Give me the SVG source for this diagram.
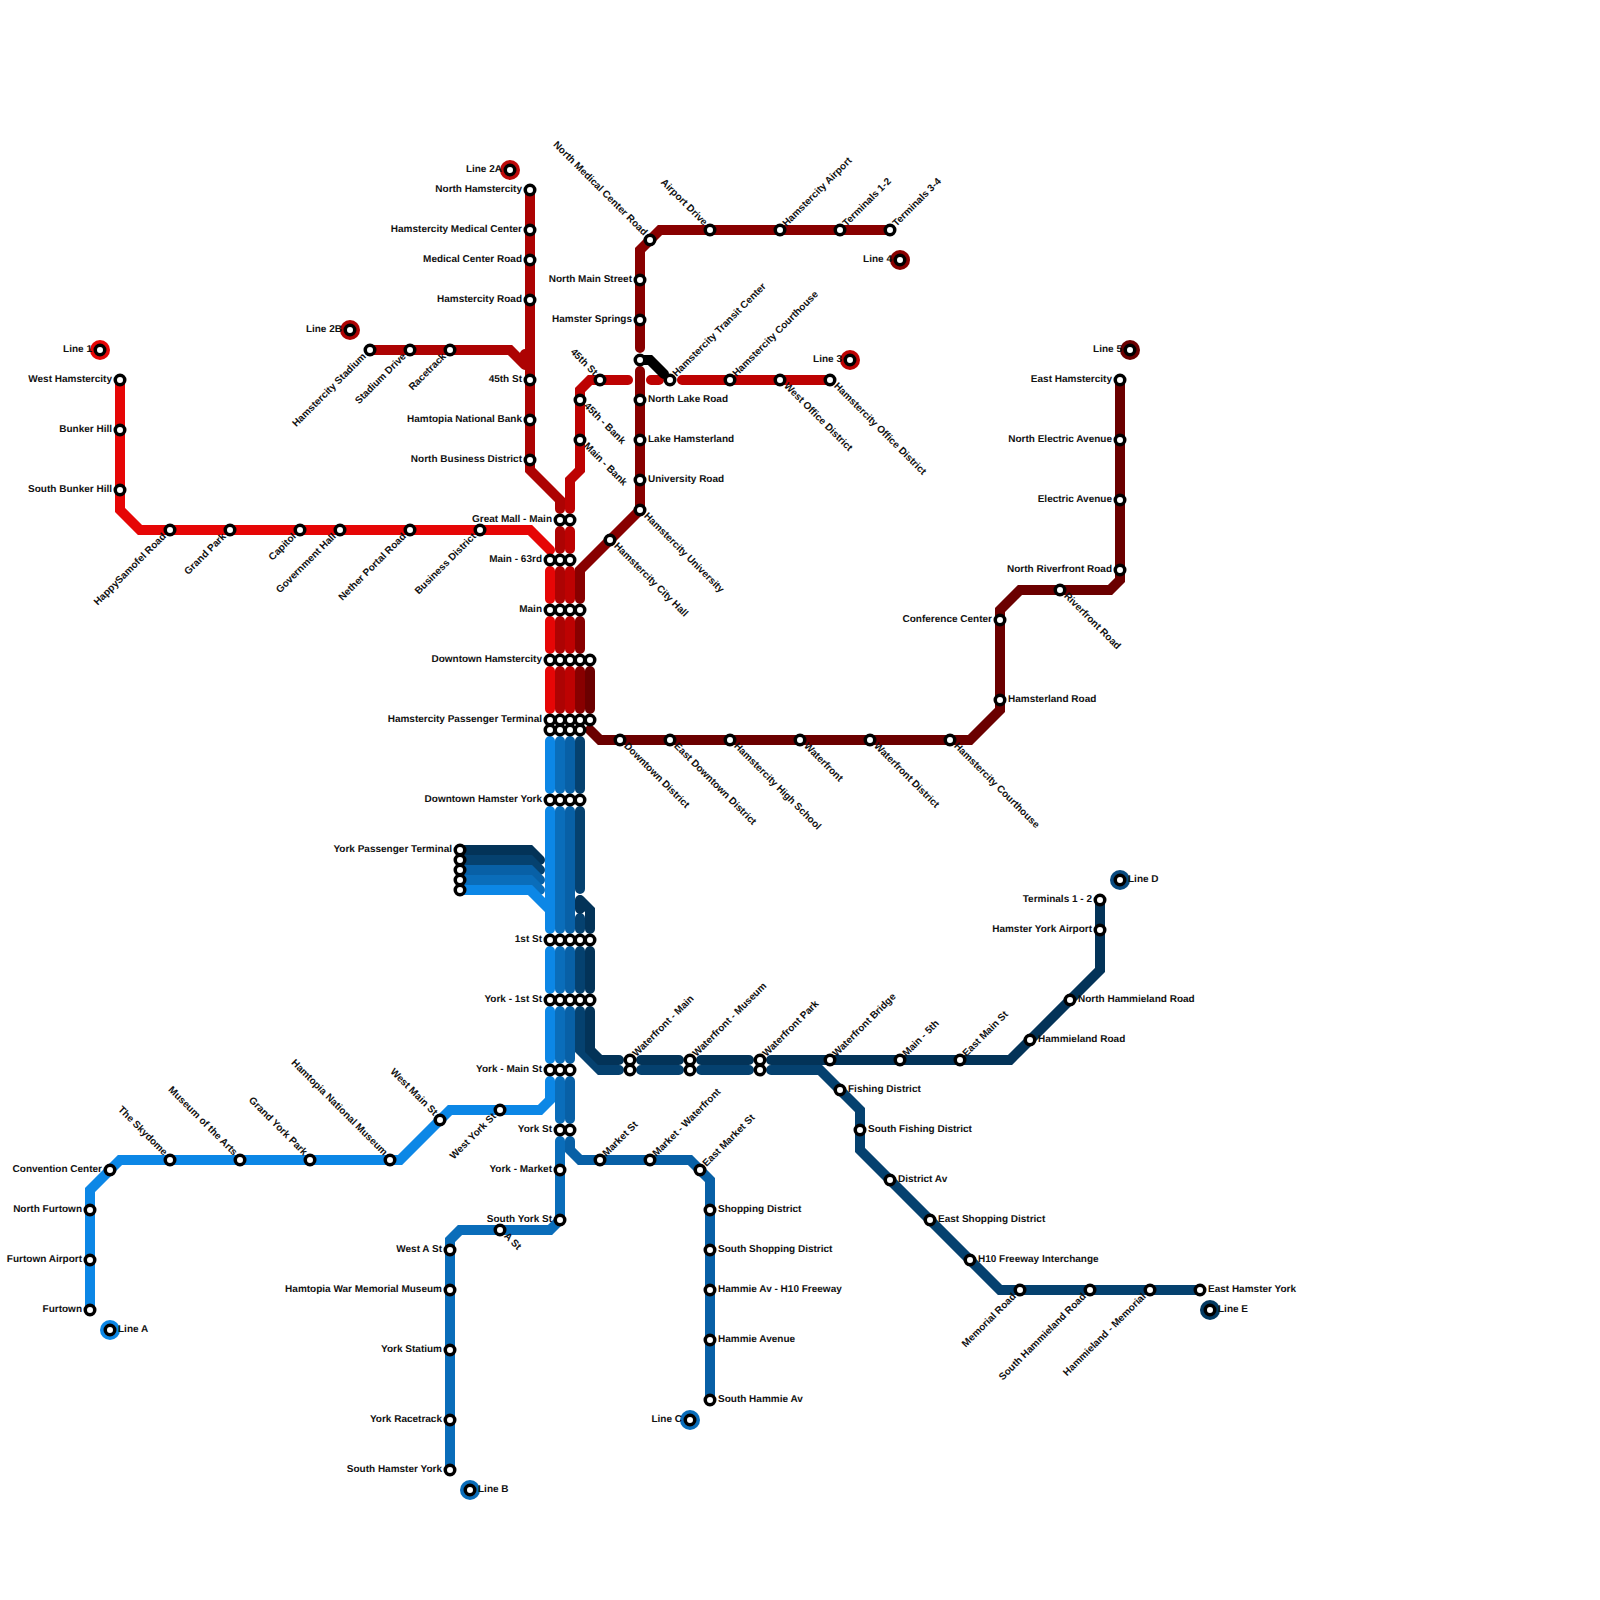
<svg xmlns="http://www.w3.org/2000/svg" width="1600" height="1600" viewBox="0 0 1600 1600">
<style>
text{font-family:"Liberation Sans",Arial,sans-serif;font-size:10px;font-weight:700;fill:#111;text-rendering:geometricPrecision}
.e{text-anchor:end}
.c path{fill:none;stroke-width:10;stroke-linecap:round;stroke-linejoin:miter}
.st{fill:#fff;stroke:#000;stroke-width:3.5}
.l1{stroke:#e60606}.l2{stroke:#ad0303}.l3{stroke:#bd0202}.l4{stroke:#880000}.l5{stroke:#6b0000}
.la{stroke:#0c87e6}.lb{stroke:#0a6dba}.lc{stroke:#0860a6}.ld{stroke:#05416f}.le{stroke:#033358}.lx{stroke:#000}
</style>
<rect width="1600" height="1600" fill="#fff"/>
<g id="connectors" class="c">
<path class="le" d="M460 850H530L540 860"/>
<path class="ld" d="M460 860H530L540 870"/>
<path class="lc" d="M460 870H530L540 880"/>
<path class="lb" d="M460 880H530L540 890"/>
<path class="l1" d="M120 380V510L140 530H530L550 550"/>
<path class="l1" d="M550 571V599M550 621V649M550 671V709"/>
<path class="l2" d="M370 350H510L525 365M525 354L524 356"/>
<path class="l2" d="M530 190V470L560 500V509M560 531V549M560 571V599M560 621V649M560 671V709"/>
<path class="l3" d="M830 380H682M659 380H651M628 380H590L580 390V470L570 480V509M570 531V549M570 571V599M570 621V649M570 671V709"/>
<path class="l4" d="M890 230H660L640 250V348M640 371V510L580 570V599M580 621V649M580 671V709"/>
<path class="lx" d="M640 360H650L664 374"/>
<path class="l5" d="M1120 380V580L1110 590H1020L1000 610V710L970 740H600L590 730M590 671V709"/>
<path class="la" d="M460 890H530L550 910V929M550 741V789M550 811V929M550 951V989M550 1011V1059M550 1081V1100L540 1110H450L400 1160H120L90 1190V1310"/>
<path class="lb" d="M560 741V789M560 811V929M560 951V989M560 1011V1059M560 1081V1119M560 1141V1220L550 1230H460L450 1240V1470"/>
<path class="lc" d="M570 741V789M570 811V929M570 951V989M570 1011V1059M570 1081V1119M570 1141V1150L580 1160H690L710 1180V1400"/>
<path class="ld" d="M580 741V789M580 811V889M580 918V929M580 951V989M580 1011V1050L600 1070H619M641 1070H679M701 1070H749M771 1070H820L860 1110V1150L1000 1290H1200"/>
<path class="le" d="M580 900V909M580 900L590 910V929M590 951V989M590 1011V1050L600 1060H619M641 1060H679M701 1060H749M771 1060H1010L1100 970V900"/>
</g>
<g id="line-1"><circle cx="100" cy="350" r="10" fill="#e60606"/><circle class="st" cx="100" cy="350" r="4.750"/><text class="e" x="92" y="351.800">Line 1</text></g>
<g id="line-2a"><circle cx="510" cy="170" r="10" fill="#bd0a0a"/><circle class="st" cx="510" cy="170" r="4.750"/><text class="e" x="502" y="171.800">Line 2A</text></g>
<g id="line-2b"><circle cx="350" cy="330" r="10" fill="#ad0303"/><circle class="st" cx="350" cy="330" r="4.750"/><text class="e" x="342" y="331.800">Line 2B</text></g>
<g id="line-3"><circle cx="850" cy="360" r="10" fill="#bd0202"/><circle class="st" cx="850" cy="360" r="4.750"/><text class="e" x="842" y="361.800">Line 3</text></g>
<g id="line-4"><circle cx="900" cy="260" r="10" fill="#880000"/><circle class="st" cx="900" cy="260" r="4.750"/><text class="e" x="892" y="261.800">Line 4</text></g>
<g id="line-5"><circle cx="1130" cy="350" r="10" fill="#6b0000"/><circle class="st" cx="1130" cy="350" r="4.750"/><text class="e" x="1122" y="351.800">Line 5</text></g>
<g id="line-a"><circle cx="110" cy="1330" r="10" fill="#0c87e6"/><circle class="st" cx="110" cy="1330" r="4.750"/><text x="118" y="1331.800">Line A</text></g>
<g id="line-b"><circle cx="470" cy="1490" r="10" fill="#0a6dba"/><circle class="st" cx="470" cy="1490" r="4.750"/><text x="478" y="1491.800">Line B</text></g>
<g id="line-c"><circle cx="690" cy="1420" r="10" fill="#0a6dba"/><circle class="st" cx="690" cy="1420" r="4.750"/><text class="e" x="682" y="1421.800">Line C</text></g>
<g id="line-d"><circle cx="1120" cy="880" r="10" fill="#084a80"/><circle class="st" cx="1120" cy="880" r="4.750"/><text x="1128" y="881.800">Line D</text></g>
<g id="line-e"><circle cx="1210" cy="1310" r="10" fill="#043a62"/><circle class="st" cx="1210" cy="1310" r="4.750"/><text x="1218" y="1311.800">Line E</text></g>

<g id="west-hamstercity"><circle class="st" cx="120" cy="380" r="4.750"/><text class="e" x="112" y="381.800">West Hamstercity</text></g>
<g id="bunker-hill"><circle class="st" cx="120" cy="430" r="4.750"/><text class="e" x="112" y="431.800">Bunker Hill</text></g>
<g id="south-bunker-hill"><circle class="st" cx="120" cy="490" r="4.750"/><text class="e" x="112" y="491.800">South Bunker Hill</text></g>
<g id="happysamofel-road"><circle class="st" cx="170" cy="530" r="4.750"/><text class="e" transform="translate(166.500 537) rotate(-45)">HappySamofel Road</text></g>
<g id="grand-park"><circle class="st" cx="230" cy="530" r="4.750"/><text class="e" transform="translate(226.500 537) rotate(-45)">Grand Park</text></g>
<g id="capitol"><circle class="st" cx="300" cy="530" r="4.750"/><text class="e" transform="translate(296.500 537) rotate(-45)">Capitol</text></g>
<g id="government-hall"><circle class="st" cx="340" cy="530" r="4.750"/><text class="e" transform="translate(336.500 537) rotate(-45)">Government Hall</text></g>
<g id="nether-portal-road"><circle class="st" cx="410" cy="530" r="4.750"/><text class="e" transform="translate(406.500 537) rotate(-45)">Nether Portal Road</text></g>
<g id="business-district"><circle class="st" cx="480" cy="530" r="4.750"/><text class="e" transform="translate(476.500 537) rotate(-45)">Business District</text></g>

<g id="great-mall-main"><circle class="st" cx="560" cy="520" r="4.750"/><circle class="st" cx="570" cy="520" r="4.750"/><text class="e" x="552" y="521.800">Great Mall - Main</text></g>
<g id="main-63rd"><circle class="st" cx="550" cy="560" r="4.750"/><circle class="st" cx="560" cy="560" r="4.750"/><circle class="st" cx="570" cy="560" r="4.750"/><text class="e" x="542" y="561.800">Main - 63rd</text></g>
<g id="main"><circle class="st" cx="550" cy="610" r="4.750"/><circle class="st" cx="560" cy="610" r="4.750"/><circle class="st" cx="570" cy="610" r="4.750"/><circle class="st" cx="580" cy="610" r="4.750"/><text class="e" x="542" y="611.800">Main</text></g>
<g id="downtown-hamstercity"><circle class="st" cx="550" cy="660" r="4.750"/><circle class="st" cx="560" cy="660" r="4.750"/><circle class="st" cx="570" cy="660" r="4.750"/><circle class="st" cx="580" cy="660" r="4.750"/><circle class="st" cx="590" cy="660" r="4.750"/><text class="e" x="542" y="661.800">Downtown Hamstercity</text></g>
<g id="hamstercity-passenger-terminal"><circle class="st" cx="550" cy="720" r="4.750"/><circle class="st" cx="560" cy="720" r="4.750"/><circle class="st" cx="570" cy="720" r="4.750"/><circle class="st" cx="580" cy="720" r="4.750"/><circle class="st" cx="590" cy="720" r="4.750"/><circle class="st" cx="550" cy="730" r="4.750"/><circle class="st" cx="560" cy="730" r="4.750"/><circle class="st" cx="570" cy="730" r="4.750"/><circle class="st" cx="580" cy="730" r="4.750"/><text class="e" x="542" y="721.800">Hamstercity Passenger Terminal</text></g>
<g id="downtown-hamster-york"><circle class="st" cx="550" cy="800" r="4.750"/><circle class="st" cx="560" cy="800" r="4.750"/><circle class="st" cx="570" cy="800" r="4.750"/><circle class="st" cx="580" cy="800" r="4.750"/><text class="e" x="542" y="801.800">Downtown Hamster York</text></g>
<g id="york-passenger-terminal"><circle class="st" cx="460" cy="850" r="4.750"/><circle class="st" cx="460" cy="860" r="4.750"/><circle class="st" cx="460" cy="870" r="4.750"/><circle class="st" cx="460" cy="880" r="4.750"/><circle class="st" cx="460" cy="890" r="4.750"/><text class="e" x="452" y="851.800">York Passenger Terminal</text></g>
<g id="first-st"><circle class="st" cx="550" cy="940" r="4.750"/><circle class="st" cx="560" cy="940" r="4.750"/><circle class="st" cx="570" cy="940" r="4.750"/><circle class="st" cx="580" cy="940" r="4.750"/><circle class="st" cx="590" cy="940" r="4.750"/><text class="e" x="542" y="941.800">1st St</text></g>
<g id="york-1st-st"><circle class="st" cx="550" cy="1000" r="4.750"/><circle class="st" cx="560" cy="1000" r="4.750"/><circle class="st" cx="570" cy="1000" r="4.750"/><circle class="st" cx="580" cy="1000" r="4.750"/><circle class="st" cx="590" cy="1000" r="4.750"/><text class="e" x="542" y="1001.800">York - 1st St</text></g>
<g id="york-main-st"><circle class="st" cx="550" cy="1070" r="4.750"/><circle class="st" cx="560" cy="1070" r="4.750"/><circle class="st" cx="570" cy="1070" r="4.750"/><text class="e" x="542" y="1071.800">York - Main St</text></g>
<g id="york-st"><circle class="st" cx="560" cy="1130" r="4.750"/><circle class="st" cx="570" cy="1130" r="4.750"/><text class="e" x="552" y="1131.800">York St</text></g>
<g id="york-market"><circle class="st" cx="560" cy="1170" r="4.750"/><text class="e" x="552" y="1171.800">York - Market</text></g>
<g id="south-york-st"><circle class="st" cx="560" cy="1220" r="4.750"/><text class="e" x="552" y="1221.800">South York St</text></g>

<g id="convention-center"><circle class="st" cx="110" cy="1170" r="4.750"/><text class="e" x="102" y="1171.800">Convention Center</text></g>
<g id="north-furtown"><circle class="st" cx="90" cy="1210" r="4.750"/><text class="e" x="82" y="1211.800">North Furtown</text></g>
<g id="furtown-airport"><circle class="st" cx="90" cy="1260" r="4.750"/><text class="e" x="82" y="1261.800">Furtown Airport</text></g>
<g id="furtown"><circle class="st" cx="90" cy="1310" r="4.750"/><text class="e" x="82" y="1311.800">Furtown</text></g>
<g id="the-skydome"><circle class="st" cx="170" cy="1160" r="4.750"/><text class="e" transform="translate(163.500 1156) rotate(45)">The Skydome</text></g>
<g id="museum-of-the-arts"><circle class="st" cx="240" cy="1160" r="4.750"/><text class="e" transform="translate(233.500 1156) rotate(45)">Museum of the Arts</text></g>
<g id="grand-york-park"><circle class="st" cx="310" cy="1160" r="4.750"/><text class="e" transform="translate(303.500 1156) rotate(45)">Grand York Park</text></g>
<g id="hamtopia-national-museum"><circle class="st" cx="390" cy="1160" r="4.750"/><text class="e" transform="translate(383.500 1156) rotate(45)">Hamtopia National Museum</text></g>
<g id="west-main-st"><circle class="st" cx="440" cy="1120" r="4.750"/><text class="e" transform="translate(433.500 1116) rotate(45)">West Main St</text></g>
<g id="west-york-st"><circle class="st" cx="500" cy="1110" r="4.750"/><text class="e" transform="translate(496.500 1117) rotate(-45)">West York St</text></g>

<g id="a-st"><circle class="st" cx="500" cy="1230" r="4.750"/><text transform="translate(503.500 1236.500) rotate(45)">A St</text></g>
<g id="west-a-st"><circle class="st" cx="450" cy="1250" r="4.750"/><text class="e" x="442" y="1251.800">West A St</text></g>
<g id="hamtopia-war-memorial-museum"><circle class="st" cx="450" cy="1290" r="4.750"/><text class="e" x="442" y="1291.800">Hamtopia War Memorial Museum</text></g>
<g id="york-statium"><circle class="st" cx="450" cy="1350" r="4.750"/><text class="e" x="442" y="1351.800">York Statium</text></g>
<g id="york-racetrack"><circle class="st" cx="450" cy="1420" r="4.750"/><text class="e" x="442" y="1421.800">York Racetrack</text></g>
<g id="south-hamster-york"><circle class="st" cx="450" cy="1470" r="4.750"/><text class="e" x="442" y="1471.800">South Hamster York</text></g>

<g id="market-st"><circle class="st" cx="600" cy="1160" r="4.750"/><text transform="translate(606.500 1157) rotate(-45)">Market St</text></g>
<g id="market-waterfront"><circle class="st" cx="650" cy="1160" r="4.750"/><text transform="translate(656.500 1157) rotate(-45)">Market - Waterfront</text></g>
<g id="east-market-st"><circle class="st" cx="700" cy="1170" r="4.750"/><text transform="translate(706.500 1167) rotate(-45)">East Market St</text></g>
<g id="shopping-district"><circle class="st" cx="710" cy="1210" r="4.750"/><text x="718" y="1211.800">Shopping District</text></g>
<g id="south-shopping-district"><circle class="st" cx="710" cy="1250" r="4.750"/><text x="718" y="1251.800">South Shopping District</text></g>
<g id="hammie-av-h10"><circle class="st" cx="710" cy="1290" r="4.750"/><text x="718" y="1291.800">Hammie Av - H10 Freeway</text></g>
<g id="hammie-avenue"><circle class="st" cx="710" cy="1340" r="4.750"/><text x="718" y="1341.800">Hammie Avenue</text></g>
<g id="south-hammie-av"><circle class="st" cx="710" cy="1400" r="4.750"/><text x="718" y="1401.800">South Hammie Av</text></g>

<g id="waterfront-main"><circle class="st" cx="630" cy="1060" r="4.750"/><circle class="st" cx="630" cy="1070" r="4.750"/><text transform="translate(636.500 1057) rotate(-45)">Waterfront - Main</text></g>
<g id="waterfront-museum"><circle class="st" cx="690" cy="1060" r="4.750"/><circle class="st" cx="690" cy="1070" r="4.750"/><text transform="translate(696.500 1057) rotate(-45)">Waterfront - Museum</text></g>
<g id="waterfront-park"><circle class="st" cx="760" cy="1060" r="4.750"/><circle class="st" cx="760" cy="1070" r="4.750"/><text transform="translate(766.500 1057) rotate(-45)">Waterfront Park</text></g>
<g id="waterfront-bridge"><circle class="st" cx="830" cy="1060" r="4.750"/><text transform="translate(836.500 1057) rotate(-45)">Waterfront Bridge</text></g>
<g id="main-5th"><circle class="st" cx="900" cy="1060" r="4.750"/><text transform="translate(906.500 1057) rotate(-45)">Main - 5th</text></g>
<g id="east-main-st"><circle class="st" cx="960" cy="1060" r="4.750"/><text transform="translate(966.500 1057) rotate(-45)">East Main St</text></g>
<g id="hammieland-road"><circle class="st" cx="1030" cy="1040" r="4.750"/><text x="1038" y="1041.800">Hammieland Road</text></g>
<g id="north-hammieland-road"><circle class="st" cx="1070" cy="1000" r="4.750"/><text x="1078" y="1001.800">North Hammieland Road</text></g>
<g id="hamster-york-airport"><circle class="st" cx="1100" cy="930" r="4.750"/><text class="e" x="1092" y="931.800">Hamster York Airport</text></g>
<g id="terminals-1-2-york"><circle class="st" cx="1100" cy="900" r="4.750"/><text class="e" x="1092" y="901.800">Terminals 1 - 2</text></g>

<g id="fishing-district"><circle class="st" cx="840" cy="1090" r="4.750"/><text x="848" y="1091.800">Fishing District</text></g>
<g id="south-fishing-district"><circle class="st" cx="860" cy="1130" r="4.750"/><text x="868" y="1131.800">South Fishing District</text></g>
<g id="district-av"><circle class="st" cx="890" cy="1180" r="4.750"/><text x="898" y="1181.800">District Av</text></g>
<g id="east-shopping-district"><circle class="st" cx="930" cy="1220" r="4.750"/><text x="938" y="1221.800">East Shopping District</text></g>
<g id="h10-freeway-interchange"><circle class="st" cx="970" cy="1260" r="4.750"/><text x="978" y="1261.800">H10 Freeway Interchange</text></g>
<g id="memorial-road"><circle class="st" cx="1020" cy="1290" r="4.750"/><text class="e" transform="translate(1016.500 1297) rotate(-45)">Memorial Road</text></g>
<g id="south-hammieland-road"><circle class="st" cx="1090" cy="1290" r="4.750"/><text class="e" transform="translate(1086.500 1297) rotate(-45)">South Hammieland Road</text></g>
<g id="hammieland-memorial"><circle class="st" cx="1150" cy="1290" r="4.750"/><text class="e" transform="translate(1146.500 1297) rotate(-45)">Hammieland - Memorial</text></g>
<g id="east-hamster-york"><circle class="st" cx="1200" cy="1290" r="4.750"/><text x="1208" y="1291.800">East Hamster York</text></g>

<g id="north-hamstercity"><circle class="st" cx="530" cy="190" r="4.750"/><text class="e" x="522" y="191.800">North Hamstercity</text></g>
<g id="hamstercity-medical-center"><circle class="st" cx="530" cy="230" r="4.750"/><text class="e" x="522" y="231.800">Hamstercity Medical Center</text></g>
<g id="medical-center-road"><circle class="st" cx="530" cy="260" r="4.750"/><text class="e" x="522" y="261.800">Medical Center Road</text></g>
<g id="hamstercity-road"><circle class="st" cx="530" cy="300" r="4.750"/><text class="e" x="522" y="301.800">Hamstercity Road</text></g>
<g id="st-45th"><circle class="st" cx="530" cy="380" r="4.750"/><text class="e" x="522" y="381.800">45th St</text></g>
<g id="hamtopia-national-bank"><circle class="st" cx="530" cy="420" r="4.750"/><text class="e" x="522" y="421.800">Hamtopia National Bank</text></g>
<g id="north-business-district"><circle class="st" cx="530" cy="460" r="4.750"/><text class="e" x="522" y="461.800">North Business District</text></g>
<g id="hamstercity-stadium"><circle class="st" cx="370" cy="350" r="4.750"/><text class="e" transform="translate(366.500 357) rotate(-45)">Hamstercity Stadium</text></g>
<g id="stadium-drive"><circle class="st" cx="410" cy="350" r="4.750"/><text class="e" transform="translate(406.500 357) rotate(-45)">Stadium Drive</text></g>
<g id="racetrack"><circle class="st" cx="450" cy="350" r="4.750"/><text class="e" transform="translate(446.500 357) rotate(-45)">Racetrack</text></g>

<g id="hamstercity-office-district"><circle class="st" cx="830" cy="380" r="4.750"/><text transform="translate(833.500 386.500) rotate(45)">Hamstercity Office District</text></g>
<g id="west-office-district"><circle class="st" cx="780" cy="380" r="4.750"/><text transform="translate(783.500 386.500) rotate(45)">West Office District</text></g>
<g id="hamstercity-courthouse-3"><circle class="st" cx="730" cy="380" r="4.750"/><text transform="translate(736.500 377) rotate(-45)">Hamstercity Courthouse</text></g>
<g id="hamstercity-transit-center"><circle class="st" cx="670" cy="380" r="4.750"/><circle class="st" cx="640" cy="360" r="4.750"/><text transform="translate(676.500 377) rotate(-45)">Hamstercity Transit Center</text></g>
<g id="st-45th-line3"><circle class="st" cx="600" cy="380" r="4.750"/><text class="e" transform="translate(593.500 376) rotate(45)">45th St</text></g>
<g id="bank-45th"><circle class="st" cx="580" cy="400" r="4.750"/><text transform="translate(583.500 406.500) rotate(45)">45th - Bank</text></g>
<g id="main-bank"><circle class="st" cx="580" cy="440" r="4.750"/><text transform="translate(583.500 446.500) rotate(45)">Main - Bank</text></g>

<g id="terminals-3-4"><circle class="st" cx="890" cy="230" r="4.750"/><text transform="translate(896.500 227) rotate(-45)">Terminals 3-4</text></g>
<g id="terminals-1-2"><circle class="st" cx="840" cy="230" r="4.750"/><text transform="translate(846.500 227) rotate(-45)">Terminals 1-2</text></g>
<g id="hamstercity-airport"><circle class="st" cx="780" cy="230" r="4.750"/><text transform="translate(786.500 227) rotate(-45)">Hamstercity Airport</text></g>
<g id="airport-drive"><circle class="st" cx="710" cy="230" r="4.750"/><text class="e" transform="translate(703.500 226) rotate(45)">Airport Drive</text></g>
<g id="north-medical-center-road"><circle class="st" cx="650" cy="240" r="4.750"/><text class="e" transform="translate(643.500 236) rotate(45)">North Medical Center Road</text></g>
<g id="north-main-street"><circle class="st" cx="640" cy="280" r="4.750"/><text class="e" x="632" y="281.800">North Main Street</text></g>
<g id="hamster-springs"><circle class="st" cx="640" cy="320" r="4.750"/><text class="e" x="632" y="321.800">Hamster Springs</text></g>
<g id="north-lake-road"><circle class="st" cx="640" cy="400" r="4.750"/><text x="648" y="401.800">North Lake Road</text></g>
<g id="lake-hamsterland"><circle class="st" cx="640" cy="440" r="4.750"/><text x="648" y="441.800">Lake Hamsterland</text></g>
<g id="university-road"><circle class="st" cx="640" cy="480" r="4.750"/><text x="648" y="481.800">University Road</text></g>
<g id="hamstercity-university"><circle class="st" cx="640" cy="510" r="4.750"/><text transform="translate(643.500 516.500) rotate(45)">Hamstercity University</text></g>
<g id="hamstercity-city-hall"><circle class="st" cx="610" cy="540" r="4.750"/><text transform="translate(613.500 546.500) rotate(45)">Hamstercity City Hall</text></g>

<g id="east-hamstercity"><circle class="st" cx="1120" cy="380" r="4.750"/><text class="e" x="1112" y="381.800">East Hamstercity</text></g>
<g id="north-electric-avenue"><circle class="st" cx="1120" cy="440" r="4.750"/><text class="e" x="1112" y="441.800">North Electric Avenue</text></g>
<g id="electric-avenue"><circle class="st" cx="1120" cy="500" r="4.750"/><text class="e" x="1112" y="501.800">Electric Avenue</text></g>
<g id="north-riverfront-road"><circle class="st" cx="1120" cy="570" r="4.750"/><text class="e" x="1112" y="571.800">North Riverfront Road</text></g>
<g id="riverfront-road"><circle class="st" cx="1060" cy="590" r="4.750"/><text transform="translate(1063.500 596.500) rotate(45)">Riverfront Road</text></g>
<g id="conference-center"><circle class="st" cx="1000" cy="620" r="4.750"/><text class="e" x="992" y="621.800">Conference Center</text></g>
<g id="hamsterland-road"><circle class="st" cx="1000" cy="700" r="4.750"/><text x="1008" y="701.800">Hamsterland Road</text></g>
<g id="hamstercity-courthouse-5"><circle class="st" cx="950" cy="740" r="4.750"/><text transform="translate(953.500 746.500) rotate(45)">Hamstercity Courthouse</text></g>
<g id="waterfront-district"><circle class="st" cx="870" cy="740" r="4.750"/><text transform="translate(873.500 746.500) rotate(45)">Waterfront District</text></g>
<g id="waterfront"><circle class="st" cx="800" cy="740" r="4.750"/><text transform="translate(803.500 746.500) rotate(45)">Waterfront</text></g>
<g id="hamstercity-high-school"><circle class="st" cx="730" cy="740" r="4.750"/><text transform="translate(733.500 746.500) rotate(45)">Hamstercity High School</text></g>
<g id="east-downtown-district"><circle class="st" cx="670" cy="740" r="4.750"/><text transform="translate(673.500 746.500) rotate(45)">East Downtown District</text></g>
<g id="downtown-district"><circle class="st" cx="620" cy="740" r="4.750"/><text transform="translate(623.500 746.500) rotate(45)">Downtown District</text></g>
</svg>
